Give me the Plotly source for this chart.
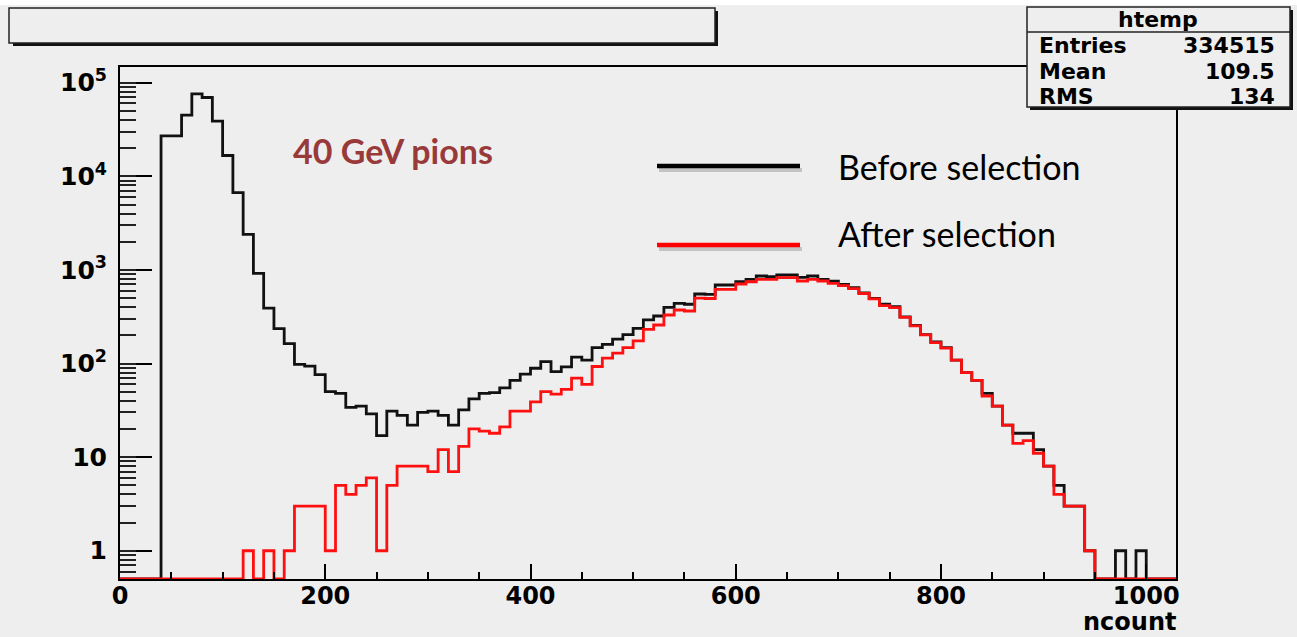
import numpy as np
import plotly.graph_objects as go

# ---------------- data (bin width 10, lower edges 0..1020) ----------------
bin_width = 10
bin_lower = list(range(0, 1030, 10))

before_selection = [
    0, 0, 0, 0, 27000, 27000, 45000, 76000, 69500, 38800,
    16700, 6700, 2400, 920, 390, 236, 163, 98, 94, 76,
    50, 48, 34, 35, 29, 17, 31, 28, 22, 30,
    31, 28, 22, 32, 42, 48, 49, 55, 66, 77,
    89, 105, 82, 92, 117, 109, 148, 160, 182, 204,
    238, 292, 322, 399, 440, 430, 553, 549, 690, 690,
    748, 794, 861, 846, 883, 883, 834, 861, 794, 760,
    700, 645, 570, 495, 430, 405, 315, 255, 204, 170,
    148, 109, 80, 66, 48, 35, 22, 18, 18, 12,
    8, 5, 3, 3, 1, 0, 0, 1, 0, 1,
    0, 0, 0,
]

after_selection = [
    0, 0, 0, 0, 0, 0, 0, 0, 0, 0,
    0, 0, 1, 0, 1, 0, 1, 3, 3, 3,
    1, 5, 4, 5, 6, 1, 5, 8, 8, 8,
    7, 12, 7, 13, 20, 19, 18, 21, 31, 31,
    39, 50, 47, 53, 70, 60, 93, 114, 129, 148,
    175, 232, 258, 330, 373, 364, 500, 495, 621, 621,
    707, 748, 794, 794, 826, 826, 762, 794, 762, 720,
    680, 630, 560, 490, 415, 395, 312, 252, 202, 167,
    146, 109, 80, 66, 45, 35, 22, 14, 15, 11,
    8, 4, 3, 3, 1, 0, 0, 0, 0, 0,
    0, 0, 0,
]

x_tick_vals = [0, 200, 400, 600, 800, 1000]
y_tick_vals = [1, 10, 100, 1000, 10000, 100000]
y_tick_text = ["1", "10", "10<sup>2</sup>", "10<sup>3</sup>", "10<sup>4</sup>", "10<sup>5</sup>"]

stats_title = "htemp"
stats_labels = ["Entries", "Mean", "RMS"]
stats_values = ["334515", "109.5", "134"]

x_title = "ncount"
beam_label = "40 GeV pions"
legend_labels = ["Before selection", "After selection"]

# ---------------- layout geometry ----------------
W, H = 1297, 637
PL, PR, PT, PB = 120, 1176, 67, 579
x_range = [0, 1029]
y_log_range = [-0.302, 5.168]
floor_val = 10 ** y_log_range[0]


def fx(px):
    return (px - PL) / (PR - PL)


def fy(py):
    return (PB - py) / (PB - PT)


def step_xy(counts):
    xs = list(bin_lower) + [bin_lower[-1] + bin_width]
    ys = [c if c > 0 else floor_val for c in counts]
    ys = ys + [ys[-1]]
    return xs, ys


BG = "#eeeeee"
fig = go.Figure()

xb, yb = step_xy(before_selection)
xa, ya = step_xy(after_selection)
fig.add_trace(go.Scatter(x=xb, y=yb, mode="lines", line=dict(color="#111111", width=2.8, shape="hv"),
                         name=legend_labels[0], showlegend=False))
fig.add_trace(go.Scatter(x=xa, y=ya, mode="lines", line=dict(color="#ff1010", width=2.8, shape="hv"),
                         name=legend_labels[1], showlegend=False))
fig.add_trace(go.Scatter(x=[None], y=[None], yaxis="y2", showlegend=False, hoverinfo="skip"))

ytick_font = dict(family="DejaVu Sans", size=25, color="black", weight="bold")
xtick_font = dict(family="DejaVu Sans", size=24, color="black", weight="bold")

fig.update_layout(
    width=W, height=H,
    margin=dict(l=PL, r=W - PR, t=PT, b=H - PB),
    paper_bgcolor=BG, plot_bgcolor=BG,
    showlegend=False,
    xaxis=dict(range=x_range, showgrid=False, zeroline=False, showline=True, mirror=True,
               linecolor="black", linewidth=2, ticks="inside", ticklen=15, tickwidth=2,
               tickcolor="black", tickvals=x_tick_vals, tickfont=xtick_font, ticklabelstandoff=-6,
               minor=dict(ticks="inside", ticklen=7, tickwidth=2, tickcolor="black", dtick=50)),
    yaxis=dict(type="log", range=y_log_range, showgrid=False, zeroline=False, showline=True,
               mirror=True, linecolor="black", linewidth=2, ticks="inside", ticklen=32,
               tickwidth=2, tickcolor="black", tickvals=y_tick_vals, ticktext=y_tick_text,
               tickfont=ytick_font, ticklabelstandoff=6),
    yaxis2=dict(type="log", range=y_log_range, overlaying="y", side="left", showgrid=False,
                zeroline=False, showline=False, ticks="inside", ticklen=16, tickwidth=1.5,
                tickcolor="#222222", dtick="D1", showticklabels=False),
)

shapes = []
# thin white strip along the top edge of the picture
shapes.append(dict(type="rect", xref="paper", yref="paper", x0=fx(0), x1=fx(W), y0=fy(5), y1=fy(0),
                   fillcolor="white", line=dict(width=0), layer="below"))
# title box (empty) with shadow
shapes.append(dict(type="rect", xref="paper", yref="paper", x0=fx(13), x1=fx(718), y0=fy(46), y1=fy(11),
                   fillcolor="#111111", line=dict(width=0)))
shapes.append(dict(type="rect", xref="paper", yref="paper", x0=fx(9), x1=fx(715), y0=fy(43), y1=fy(8),
                   fillcolor=BG, line=dict(color="#222222", width=1.5)))
# stats box with shadow
shapes.append(dict(type="rect", xref="paper", yref="paper", x0=fx(1030), x1=fx(1293), y0=fy(110), y1=fy(10),
                   fillcolor="#111111", line=dict(width=0)))
shapes.append(dict(type="rect", xref="paper", yref="paper", x0=fx(1027), x1=fx(1290), y0=fy(107), y1=fy(7),
                   fillcolor=BG, line=dict(color="#222222", width=1.5)))
shapes.append(dict(type="line", xref="paper", yref="paper", x0=fx(1027), x1=fx(1290), y0=fy(32), y1=fy(32),
                   line=dict(color="#222222", width=1.5)))
# legend swatches with soft shadow
for yy, col in [(166, "black"), (245, "#ff0000")]:
    shapes.append(dict(type="line", xref="paper", yref="paper", x0=fx(659), x1=fx(802), y0=fy(yy + 4),
                       y1=fy(yy + 4), line=dict(color="rgba(0,0,0,0.18)", width=4)))
    shapes.append(dict(type="line", xref="paper", yref="paper", x0=fx(657), x1=fx(800), y0=fy(yy), y1=fy(yy),
                       line=dict(color=col, width=4.5)))
fig.update_layout(shapes=shapes)

ann = []
sfont = dict(family="DejaVu Sans", size=22, color="black", weight="bold")
ann.append(dict(text=stats_title, x=fx(1158), y=fy(19), xanchor="center", yanchor="middle", font=sfont))
for lab, val, yy in zip(stats_labels, stats_values, [45, 71, 96]):
    ann.append(dict(text=lab, x=fx(1037), y=fy(yy), xanchor="left", yanchor="middle", font=sfont))
    ann.append(dict(text=val, x=fx(1277), y=fy(yy), xanchor="right", yanchor="middle", font=sfont))
ann.append(dict(text=x_title, x=fx(1178), y=fy(622), xanchor="right", yanchor="middle",
                font=dict(family="DejaVu Sans", size=24, color="black", weight="bold")))
ann.append(dict(text=beam_label, x=fx(291), y=fy(150), xanchor="left", yanchor="middle",
                font=dict(family="Lato", size=34, color="#993a3a", weight="bold")))
ann.append(dict(text=legend_labels[0], x=fx(836), y=fy(166), xanchor="left", yanchor="middle",
                font=dict(family="Lato", size=34, color="black")))
ann.append(dict(text=legend_labels[1], x=fx(836), y=fy(233), xanchor="left", yanchor="middle",
                font=dict(family="Lato", size=34, color="black")))
for a in ann:
    a.update(xref="paper", yref="paper", showarrow=False)
fig.update_layout(annotations=ann)

fig.write_html("out.html", config={"displayModeBar": False},
               post_script="document.body.style.margin='0';document.body.style.overflow='hidden';")
